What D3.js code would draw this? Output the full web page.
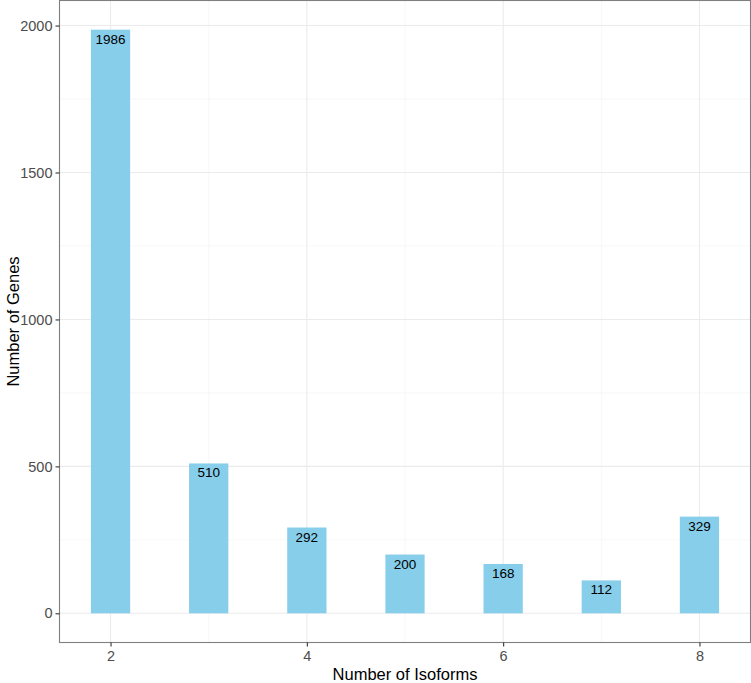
<!DOCTYPE html>
<html><head><meta charset="utf-8">
<script src="https://cdn.jsdelivr.net/npm/d3@7"></script>
<style>body{margin:0;background:#fff}svg{display:block;font-family:"Liberation Sans",Arial,sans-serif}</style>
</head><body>
<svg id="c" width="751" height="683"></svg>
<script>
const isoforms = [2, 3, 4, 5, 6, 7, 8];
const genes = [1986, 510, 292, 200, 168, 112, 329];
const yTicks = [0, 500, 1000, 1500, 2000];
const yMinor = [250, 750, 1250, 1750];
const xTicks = [2, 4, 6, 8];
const xMinor = [3, 5, 7];

const svg = d3.select("#c");
const L = 59.5, R = 750.5, T = 0.5, B = 642.5;
const x = d3.scaleLinear().domain([1.48, 8.52]).range([L, R]);
const y = d3.scaleLinear().domain([-99.3, 2085.3]).range([B, T]);

const g = svg.append("g");
g.append("rect").attr("x", L).attr("y", T).attr("width", R - L).attr("height", B - T).attr("fill", "#fff");
// grids
g.selectAll(".ymin").data(yMinor).join("line").attr("x1", L).attr("x2", R)
  .attr("y1", d => y(d)).attr("y2", d => y(d)).attr("stroke", "#f2f2f2").attr("stroke-width", 0.6);
g.selectAll(".xmin").data(xMinor).join("line").attr("y1", T).attr("y2", B)
  .attr("x1", d => x(d)).attr("x2", d => x(d)).attr("stroke", "#f2f2f2").attr("stroke-width", 0.6);
g.selectAll(".ymaj").data(yTicks).join("line").attr("x1", L).attr("x2", R)
  .attr("y1", d => y(d)).attr("y2", d => y(d)).attr("stroke", "#ebebeb").attr("stroke-width", 1.1);
g.selectAll(".xmaj").data(xTicks).join("line").attr("y1", T).attr("y2", B)
  .attr("x1", d => x(d)).attr("x2", d => x(d)).attr("stroke", "#ebebeb").attr("stroke-width", 1.1);

// bars
const bw = x(0.4) - x(0);
g.selectAll(".bar").data(isoforms).join("rect")
  .attr("x", (d) => x(d - 0.2)).attr("width", bw)
  .attr("y", (d, i) => y(genes[i])).attr("height", (d, i) => y(0) - y(genes[i]))
  .attr("fill", "#87ceeb");
g.selectAll(".lab").data(isoforms).join("text")
  .attr("x", d => x(d)).attr("y", (d, i) => y(genes[i]) + 14)
  .attr("text-anchor", "middle").attr("font-size", 13.5).attr("fill", "#000")
  .text((d, i) => genes[i]);

// border
g.append("rect").attr("x", L).attr("y", T).attr("width", R - L).attr("height", B - T)
  .attr("fill", "none").attr("stroke", "#7f7f7f").attr("stroke-width", 1.1);

// axes
const xa = svg.append("g").attr("transform", `translate(0,${B})`)
  .call(d3.axisBottom(x).tickValues(xTicks).tickSize(4).tickPadding(4).tickFormat(d3.format("d")));
const ya = svg.append("g").attr("transform", `translate(${L},0)`)
  .call(d3.axisLeft(y).tickValues(yTicks).tickSize(4).tickPadding(3).tickFormat(d3.format("d")));
[xa, ya].forEach(a => {
  a.select(".domain").remove();
  a.selectAll(".tick line").attr("stroke", "#333").attr("stroke-width", 1.1);
  a.selectAll(".tick text").attr("fill", "#4d4d4d").attr("font-size", 14.5).attr("font-family", "Liberation Sans, Arial, sans-serif");
});

svg.append("text").attr("x", (L + R) / 2).attr("y", 680).attr("text-anchor", "middle")
  .attr("font-size", 16.5).attr("fill", "#000").text("Number of Isoforms");
svg.append("text").attr("transform", `translate(19,${(T + B) / 2}) rotate(-90)`).attr("text-anchor", "middle")
  .attr("font-size", 16.5).attr("fill", "#000").text("Number of Genes");
</script>
</body></html>
